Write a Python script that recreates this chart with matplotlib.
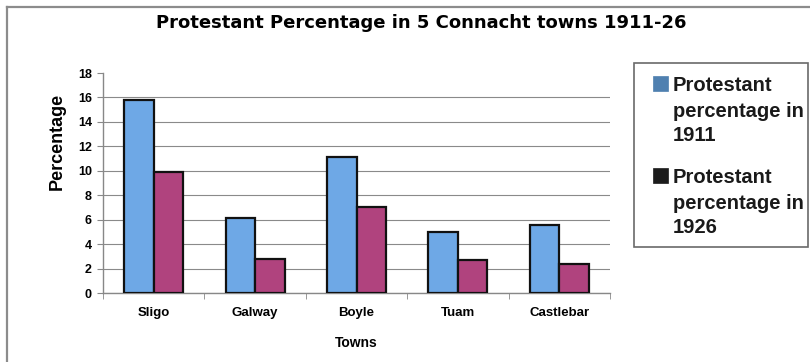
import matplotlib
matplotlib.use("Agg")
import matplotlib.pyplot as plt
import numpy as np
from matplotlib.patches import Rectangle
from matplotlib.lines import Line2D

towns = ["Sligo", "Galway", "Boyle", "Tuam", "Castlebar"]
pct_1911 = [15.8, 6.1, 11.1, 5.0, 5.6]
pct_1926 = [9.9, 2.8, 7.0, 2.7, 2.4]
series_labels = [["Protestant", "percentage in", "1911"],
                 ["Protestant", "percentage in", "1926"]]
yticks = [0, 2, 4, 6, 8, 10, 12, 14, 16, 18]

plt.rcParams['font.family'] = ['Liberation Sans', 'DejaVu Sans']

W, H = 810, 362
fig = plt.figure(figsize=(8.1, 3.62), dpi=100)
fig.patch.set_facecolor("white")

def fx(px):
    return px / W

def fy(py):
    return 1 - py / H

# outer frame (left and top edges visible)
fig.add_artist(Line2D([fx(7), fx(7)], [fy(7), 0], transform=fig.transFigure,
                      color="#8c8c8c", linewidth=1.6))
fig.add_artist(Line2D([fx(7), 1], [fy(7), fy(7)], transform=fig.transFigure,
                      color="#8c8c8c", linewidth=1.6))

ax = fig.add_axes([fx(103), fy(293), fx(610) - fx(103), fy(73) - fy(293)])
x = np.arange(len(towns))
w = 0.29
ax.bar(x - w/2, pct_1911, w, color="#6ea8e6", edgecolor="#111111", linewidth=1.6, zorder=3)
ax.bar(x + w/2, pct_1926, w, color="#b0437e", edgecolor="#111111", linewidth=1.6, zorder=3)

ax.set_xlim(-0.5, len(towns) - 0.5)
ax.set_ylim(0, 18)
ax.set_yticks(yticks)
ax.set_yticklabels([str(t) for t in yticks], fontsize=9, fontweight="bold")
ax.set_xticks(x)
ax.set_xticklabels(towns, fontsize=9.5, fontweight="bold")
ax.tick_params(axis="x", length=0, pad=10)
ax.set_xticks(np.arange(len(towns) + 1) - 0.5, minor=True)
ax.tick_params(axis="x", which="minor", length=4, color="#888888", direction="out")
ax.tick_params(axis="y", length=4, color="#888888", direction="out", pad=4)
ax.grid(axis="y", color="#8a8a8a", linewidth=0.8, zorder=0)
gl = ax.get_ygridlines()
gl[-1].set_visible(False)
for s in ["top", "right"]:
    ax.spines[s].set_visible(False)
for s in ["left", "bottom"]:
    ax.spines[s].set_color("#888888")
    ax.spines[s].set_linewidth(1.0)
ax.set_ylabel("Percentage", fontsize=13, fontweight="bold")
ax.yaxis.set_label_coords(-(103 - 66) / 507, (293 - 141) / 220)
ax.set_xlabel("Towns", fontsize=10, fontweight="bold", labelpad=12)

fig.text(fx(421), fy(23.5), "Protestant Percentage in 5 Connacht towns 1911-26",
         ha="center", va="center", fontsize=13, fontweight="bold",
         family=["DejaVu Sans"])

# legend drawn manually to match layout (handle aligned with first line)
fig.add_artist(Rectangle((fx(634), fy(247)), fx(808) - fx(634), fy(63) - fy(247),
                         transform=fig.transFigure, fill=False,
                         edgecolor="#6a6a6a", linewidth=1.2))
handle_colors = ["#4f80b0", "#1c1c1c"]
square_tops = [76, 168]
baselines = [[91, 117, 141], [183, 209, 233]]
for col, top, lines, bls in zip(handle_colors, square_tops, series_labels, baselines):
    fig.add_artist(Rectangle((fx(653), fy(top + 15)), fx(15), 15 / H,
                             transform=fig.transFigure, facecolor=col,
                             edgecolor=col, linewidth=0.5))
    for line, bl in zip(lines, bls):
        fig.text(fx(673), fy(bl), line, ha="left", va="baseline",
                 fontsize=14.5, fontweight="bold", color="#1a1a1a")

fig.savefig("out.png", dpi=100, facecolor="white")
